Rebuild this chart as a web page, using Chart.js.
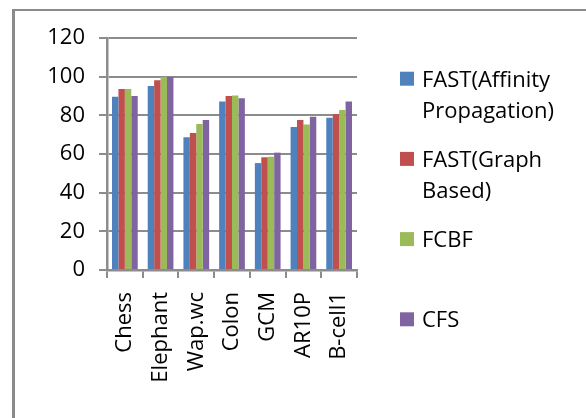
<!DOCTYPE html>
<html>
<head>
<meta charset="utf-8">
<script src="https://cdn.jsdelivr.net/npm/chart.js@4.4.1/dist/chart.umd.min.js"></script>
<style>
  html, body { margin:0; padding:0; background:#fff; }
  #wrap { position:relative; width:586px; height:418px; overflow:hidden; }
  #frame { position:absolute; left:12px; top:9px; width:600px; height:420px; border-top:2px solid #8a8a8a; border-left:3px solid #8a8a8a; box-sizing:border-box; }
  canvas { position:absolute; left:0; top:0; }
</style>
</head>
<body>
<div id="wrap">
  <div id="frame"></div>
  <canvas id="cv" width="586" height="418"></canvas>
</div>
<script>
// datos
const categorias = ["Chess", "Elephant", "Wap.wc", "Colon", "GCM", "AR10P", "B-cell1"];
const fastAP  = [89.6, 95.2, 68.6, 87.2, 55.3, 74.0, 78.8];
const fastGB  = [93.6, 98.1, 70.9, 90.0, 58.3, 77.6, 80.7];
const fcbf    = [93.6, 99.8, 75.5, 90.3, 58.6, 75.2, 82.8];
const cfs     = [90.0, 100,  77.6, 88.8, 60.7, 79.3, 87.2];
const ticksY  = [0, 20, 40, 60, 80, 100, 120];

const FONT = "'Open Sans', sans-serif";
const GRIS = "#8c8c8c";

// leyenda a la derecha, con etiquetas de dos líneas
const leyendaPlugin = {
  id: "leyenda",
  afterDraw(chart) {
    const { ctx } = chart;
    ctx.save();
    ctx.font = "22px " + FONT;
    ctx.textAlign = "left";
    ctx.textBaseline = "alphabetic";
    chart.data.datasets.forEach((ds, i) => {
      const cy = 78.7 + i * 80.2;
      ctx.fillStyle = ds.backgroundColor;
      ctx.fillRect(400, cy - 7, 14, 14);
      ctx.fillStyle = "#000";
      ds.label.split("\n").forEach((linea, j) => ctx.fillText(linea, 422, cy + 8 + j * 31));
    });
    ctx.restore();
  },
};

const serie = (label, data, color) => ({
  label, data, backgroundColor: color, borderWidth: 0,
  barPercentage: 1.0, categoryPercentage: 0.72,
});

new Chart(document.getElementById("cv").getContext("2d"), {
  type: "bar",
  plugins: [leyendaPlugin],
  data: {
    labels: categorias,
    datasets: [
      serie("FAST(Affinity\nPropagation)", fastAP, "#4f81bd"),
      serie("FAST(Graph\nBased)",          fastGB, "#c0504d"),
      serie("FCBF",                         fcbf,   "#9bbb59"),
      serie("CFS",                          cfs,    "#8064a2"),
    ],
  },
  options: {
    responsive: false, animation: false,
    layout: { padding: { top: 38, right: 229, bottom: 0, left: 0 } },
    plugins: { legend: { display: false }, tooltip: { enabled: false } },
    scales: {
      x: {
        afterFit: (s) => { s.height = 148; },
        grid: { display: true, drawOnChartArea: false, drawTicks: true, tickLength: 8, color: GRIS, lineWidth: 2 },
        border: { color: GRIS, width: 2.5 },
        ticks: { color: "#000", font: { size: 22, family: FONT }, minRotation: 90, maxRotation: 90, padding: 14 },
      },
      y: {
        min: 0, max: 120,
        afterFit: (s) => { s.width = 107; },
        afterBuildTicks: (s) => { s.ticks = ticksY.map((v) => ({ value: v })); },
        grid: { color: GRIS, lineWidth: 2, tickLength: 8 },
        border: { color: GRIS, width: 2.5 },
        ticks: { color: "#000", font: { size: 22, family: FONT }, padding: 14 },
      },
    },
  },
});
</script>
</body>
</html>
